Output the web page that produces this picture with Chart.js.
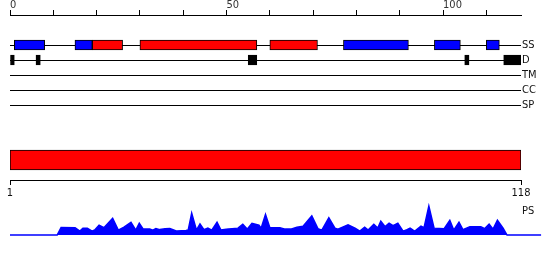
<!DOCTYPE html>
<html>
<head>
<meta charset="utf-8">
<script src="https://cdn.jsdelivr.net/npm/chart.js@4"></script>
<style>
  body { margin: 0; background: #fff; }
  #wrap { position: relative; width: 550px; height: 260px; }
  canvas { position: absolute; left: 0; }
</style>
</head>
<body>
<div id="wrap">
  <canvas id="features" width="550" height="120" style="top:0"></canvas>
  <canvas id="domains" width="550" height="62" style="top:140px"></canvas>
  <canvas id="profile" width="550" height="62" style="top:198px"></canvas>
</div>
<script>
// feature tracks (residue ranges)
const trackNames = ['SS', 'D', 'TM', 'CC', 'SP'];
const ssHelix = [[19, 26], [30, 57], [60, 71]];
const ssStrand = [[1, 8], [15, 19], [77, 92], [98, 104], [110, 113]];
const disorder = [[0, 1], [6, 7], [55, 57], [105, 106], [114, 118]];

// domain bar + sequence axis
const seqLength = 118;
const domainRanges = [[1, 118]];
const seqTicks = [1, 118];

// PS profile
const psPos = [1, 11.8, 12.7, 15.9, 17.0, 17.7, 18.7, 19.8, 20.5, 21.4, 22.5, 24.5, 25.8, 27.1, 28.7, 29.8,
  30.6, 31.5, 33.0, 33.7, 34.4, 35.3, 36.5, 37.6, 39.2, 41.3, 41.8, 42.6, 43.7, 44.5, 45.4, 46.3,
  47.2, 48.4, 49.3, 50.5, 53.2, 54.3, 55.3, 56.4, 58.0, 58.5, 59.5, 60.5, 62.8, 64.0, 65.3, 66.7,
  68.1, 70.1, 71.5, 72.4, 74.0, 75.4, 76.1, 78.4, 80.0, 81.1, 82.2, 83.0, 84.3, 85.2, 85.9, 86.9,
  87.8, 88.7, 89.8, 91.0, 91.9, 92.6, 93.3, 93.7, 95.1, 95.8, 96.9, 98.1, 100.4, 101.7, 102.6, 103.8,
  104.7, 106.3, 108.8, 109.7, 110.7, 111.6, 112.6, 113.9, 114.8, 122.6];
const psVal = [0, 0, 7.7, 7.5, 4, 7, 7, 4, 5.5, 10, 7.5, 17, 5, 8, 13, 5,
  12, 6, 6, 5, 6.5, 5.5, 6.5, 6.7, 4, 4.5, 5, 22.3, 5, 11.3, 5.5, 7,
  5, 13, 5, 6, 7, 11, 6, 12, 10, 7, 21, 7.5, 7.5, 6, 6, 8,
  9, 19.5, 6.5, 5, 17.5, 7, 6, 10.5, 7, 4, 8, 5, 11, 7, 14, 8.5,
  12, 9.5, 12, 4, 5.5, 7, 5, 4, 9, 7.5, 29.5, 7, 6.5, 15, 5, 13,
  5.5, 8.5, 8.5, 6.5, 11, 6, 15, 7, 0, 0];
const psName = 'PS';

const tickFont = { family: "'DejaVu Sans Condensed', 'DejaVu Sans', sans-serif", size: 11 };
const textColor = '#111';
Chart.defaults.animation = false;
Chart.defaults.plugins.legend.display = false;
Chart.defaults.plugins.tooltip.enabled = false;

const barStyle = { borderColor: '#000', borderWidth: 1, borderSkipped: false };

new Chart(document.getElementById('features'), {
  type: 'bar',
  data: {
    datasets: [
      { data: ssHelix.map(r => ({ x: r, y: 0 })), backgroundColor: '#ff0000', ...barStyle },
      { data: ssStrand.map(r => ({ x: r, y: 0 })), backgroundColor: '#0000ff', ...barStyle },
      { data: disorder.map(r => ({ x: r, y: 1 })), backgroundColor: '#000', ...barStyle }
    ]
  },
  options: {
    indexAxis: 'y',
    responsive: false,
    layout: { padding: { left: 10, bottom: 15 } },
    datasets: { bar: { grouped: false, barThickness: 10 } },
    scales: {
      x: {
        type: 'linear', position: 'top', min: 0, max: seqLength,
        ticks: {
          stepSize: 10, includeBounds: false, align: 'start', padding: -2, autoSkip: false,
          font: tickFont, color: '#333',
          callback: v => (v % 50 === 0 ? v : '')
        },
        grid: { drawOnChartArea: false, tickLength: 5, color: '#000' },
        border: { color: '#000' },
        afterFit: s => { s.height = 15; }
      },
      y: {
        type: 'linear', position: 'right', reverse: true, min: -2, max: 4, offset: false,
        ticks: { stepSize: 1, padding: 1, autoSkip: false, font: tickFont, color: textColor,
          callback: v => trackNames[v] ?? '' },
        grid: { offset: false, drawTicks: false, color: ctx => (ctx.tick && ctx.tick.value >= 0 ? '#000' : 'rgba(0,0,0,0)') },
        border: { display: false },
        afterFit: s => { s.width = 29; }
      }
    }
  }
});

new Chart(document.getElementById('domains'), {
  type: 'bar',
  data: {
    datasets: [{ data: domainRanges.map(r => ({ x: r, y: 0 })), backgroundColor: '#ff0000', barThickness: 20, ...barStyle }]
  },
  options: {
    indexAxis: 'y',
    responsive: false,
    layout: { padding: { left: 10, right: 29 } },
    scales: {
      x: {
        type: 'linear', position: 'bottom', min: 1, max: seqLength,
        afterBuildTicks: s => { s.ticks = seqTicks.map(v => ({ value: v })); },
        ticks: { padding: 2, autoSkip: false, font: tickFont, color: textColor },
        grid: { drawOnChartArea: false, tickLength: 5, color: '#000' },
        border: { color: '#000' },
        afterFit: s => { s.height = 22; }
      },
      y: { type: 'linear', min: -1, max: 1, offset: false, display: false }
    }
  }
});

new Chart(document.getElementById('profile'), {
  type: 'line',
  data: {
    datasets: [{
      data: psPos.map((p, i) => ({ x: p, y: psVal[i] })),
      borderColor: '#0000ff', backgroundColor: '#0000ff', borderWidth: 1.5,
      fill: 'origin', pointRadius: 0, tension: 0, clip: false
    }]
  },
  options: {
    responsive: false,
    layout: { padding: { left: 10, top: 7, bottom: 25 } },
    scales: {
      x: { type: 'linear', min: 1, max: seqLength, display: false },
      y: {
        type: 'linear', position: 'right', min: 0, max: 30,
        afterBuildTicks: s => { s.ticks = [{ value: 24 }]; },
        ticks: { padding: 1, font: tickFont, color: textColor, callback: () => psName },
        grid: { display: false, drawTicks: false },
        border: { display: false },
        afterFit: s => { s.width = 29; }
      }
    }
  }
});
</script>
</body>
</html>
